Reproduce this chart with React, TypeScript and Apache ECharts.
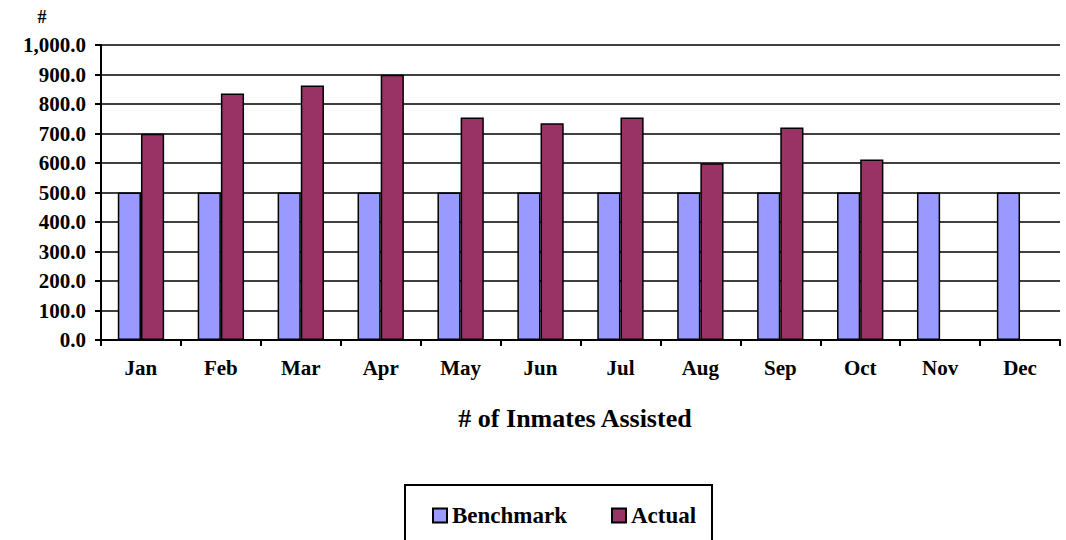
import React, { useEffect, useRef } from "react";
import * as echarts from "echarts";

const months = ["Jan", "Feb", "Mar", "Apr", "May", "Jun", "Jul", "Aug", "Sep", "Oct", "Nov", "Dec"];
const benchmark = [500, 500, 500, 500, 500, 500, 500, 500, 500, 500, 500, 500];
const actual: (number | null)[] = [699, 836, 863, 899, 754, 735, 754, 599, 720, 612, null, null];
const yTicks = { min: 0, max: 1000, interval: 100 };

const FONT = "'Liberation Serif', 'Times New Roman', serif";

export default function App() {
  const ref = useRef<HTMLDivElement>(null);
  useEffect(() => {
    document.body.style.margin = "0";
    const chart = echarts.init(ref.current!, null, { renderer: "svg" });
    chart.setOption({
      animation: false,
      backgroundColor: "#ffffff",
      textStyle: { fontFamily: FONT },
      grid: { left: 101, right: 6, top: 45, bottom: 200, containLabel: false },
      xAxis: {
        type: "category",
        data: months,
        boundaryGap: true,
        axisLine: { show: true, lineStyle: { color: "#000", width: 2 } },
        axisTick: { show: true, alignWithLabel: false, length: 6, inside: false, lineStyle: { color: "#000", width: 2 } },
        axisLabel: { color: "#000", fontWeight: "bold", fontSize: 21, fontFamily: FONT, margin: 17 },
        splitLine: { show: false },
      },
      yAxis: {
        type: "value",
        min: yTicks.min,
        max: yTicks.max,
        interval: yTicks.interval,
        axisLine: { show: true, lineStyle: { color: "#000", width: 2 } },
        axisTick: { show: true, length: 6, inside: false, lineStyle: { color: "#000", width: 2 } },
        axisLabel: {
          color: "#000",
          fontWeight: "bold",
          fontSize: 21,
          fontFamily: FONT,
          margin: 15,
          formatter: (v: number) =>
            v.toLocaleString("en-US", { minimumFractionDigits: 1, maximumFractionDigits: 1 }),
        },
        splitLine: { show: true, lineStyle: { color: "#000", width: 1.5 } },
      },
      legend: {
        data: ["Benchmark", "Actual"],
        left: 427,
        top: 499,
        itemWidth: 14,
        itemHeight: 14,
        itemGap: 44,
        icon: "rect",
        textStyle: { color: "#000", fontWeight: "bold", fontSize: 23, fontFamily: FONT, padding: [2, 0, 0, 0] },
      },
      graphic: [
        {
          type: "rect",
          shape: { x: 405, y: 485, width: 307, height: 80 },
          style: { fill: "none", stroke: "#000", lineWidth: 2 },
          silent: true,
        },
        {
          type: "text",
          x: 42,
          y: 17,
          style: { text: "#", fill: "#000", font: `bold 18px ${FONT}`, textAlign: "center", textVerticalAlign: "middle" },
        },
        {
          type: "text",
          x: 575,
          y: 418,
          style: {
            text: "# of Inmates Assisted",
            fill: "#000",
            font: `bold 26px ${FONT}`,
            textAlign: "center",
            textVerticalAlign: "middle",
          },
        },
      ],
      series: [
        {
          name: "Benchmark",
          type: "bar",
          data: benchmark,
          barGap: "0%",
          barCategoryGap: "42%",
          itemStyle: { color: "#9999FF", borderColor: "#000", borderWidth: 1.5 },
        },
        {
          name: "Actual",
          type: "bar",
          data: actual,
          barGap: "0%",
          barCategoryGap: "42%",
          itemStyle: { color: "#993366", borderColor: "#000", borderWidth: 1.5 },
        },
      ],
    });
    return () => chart.dispose();
  }, []);
  return <div ref={ref} style={{ width: 1066, height: 540 }} />;
}
